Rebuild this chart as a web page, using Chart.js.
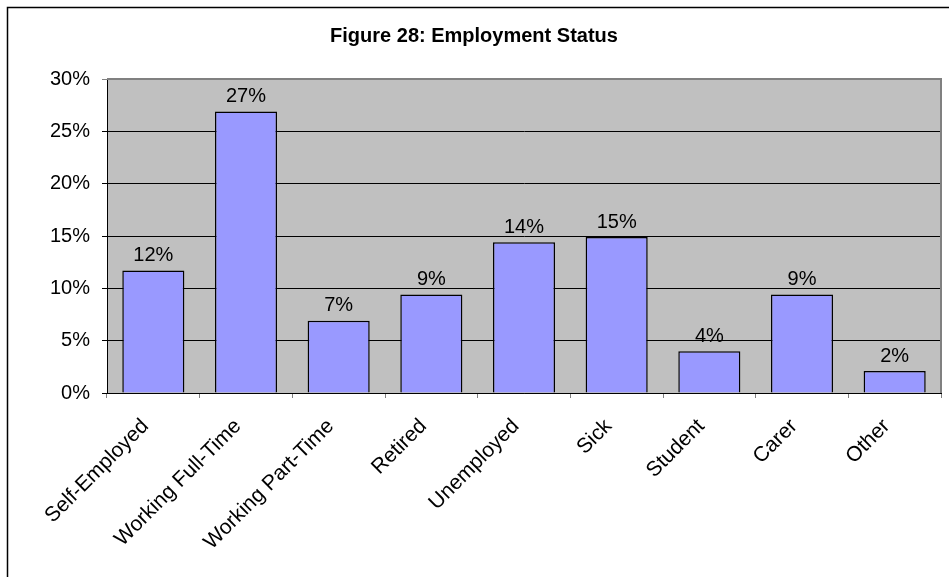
<!DOCTYPE html>
<html lang="en">
<head>
<meta charset="UTF-8">
<title>Figure 28: Employment Status</title>
<script src="https://cdn.jsdelivr.net/npm/chart.js"></script>
<style>
  body { margin: 0; background: #fff; }
  canvas { display: block; }
</style>
</head>
<body>
<canvas id="myChart" width="949" height="577"></canvas>
<script>
// values (percent)
const categories = ['Self-Employed', 'Working Full-Time', 'Working Part-Time', 'Retired',
                    'Unemployed', 'Sick', 'Student', 'Carer', 'Other'];
const shares = [11.7, 26.9, 6.9, 9.4, 14.4, 14.9, 4.0, 9.4, 2.1];
const yTicks = [0, 5, 10, 15, 20, 25, 30];

const FONT = "'Liberation Sans', Arial, sans-serif";

// outer frame + grey plot background
const backdrop = {
    id: 'backdrop',
    beforeDraw(chart) {
        const c = chart.ctx, a = chart.chartArea;
        c.save();
        c.fillStyle = '#fff';
        c.fillRect(0, 0, chart.width, chart.height);
        c.strokeStyle = '#000';
        c.lineWidth = 1.5;
        c.strokeRect(7.5, 7.5, chart.width + 20, chart.height + 20);
        c.fillStyle = '#c0c0c0';
        c.fillRect(a.left, a.top, a.right - a.left, a.bottom - a.top);
        c.restore();
    },
    beforeDatasetsDraw(chart) {
        const c = chart.ctx, a = chart.chartArea;
        c.save();
        c.strokeStyle = '#808080';
        c.lineWidth = 2;
        c.beginPath();
        c.moveTo(a.left, a.top);
        c.lineTo(a.right, a.top);
        c.lineTo(a.right, a.bottom);
        c.stroke();
        c.restore();
    }
};

// percentage labels above the bars
const barLabels = {
    id: 'barLabels',
    afterDatasetsDraw(chart) {
        const c = chart.ctx;
        const meta = chart.getDatasetMeta(0);
        c.save();
        c.font = '20px ' + FONT;
        c.fillStyle = '#000';
        c.textAlign = 'center';
        c.textBaseline = 'bottom';
        meta.data.forEach((bar, i) => {
            c.fillText(Math.round(shares[i]) + '%', bar.x, bar.y - 5);
        });
        c.restore();
    }
};

const ctx = document.getElementById('myChart').getContext('2d');
const myChart = new Chart(ctx, {
    type: 'bar',
    data: {
        labels: categories,
        datasets: [{
            data: shares,
            backgroundColor: '#9999ff',
            borderColor: '#000',
            borderWidth: 1.5,
            barPercentage: 1,
            categoryPercentage: 0.67
        }]
    },
    options: {
        responsive: false,
        animation: false,
        events: [],
        layout: { padding: { left: 7, right: 8, top: 0, bottom: 0 } },
        plugins: {
            legend: { display: false },
            tooltip: { enabled: false },
            title: {
                display: true,
                text: 'Figure 28: Employment Status',
                color: '#000',
                font: { family: FONT, size: 20, weight: 'bold', lineHeight: 1.2 },
                padding: { top: 24, bottom: 31 }
            }
        },
        scales: {
            x: {
                grid: {
                    display: true,
                    drawOnChartArea: false,
                    color: '#808080',
                    tickLength: 5
                },
                border: { color: '#000', width: 1 },
                ticks: {
                    color: '#000',
                    font: { family: FONT, size: 21 },
                    minRotation: 45,
                    maxRotation: 45,
                    autoSkip: false,
                    labelOffset: -8,
                    padding: 16
                },
                afterFit(scale) { scale.height = 184; }
            },
            y: {
                min: 0,
                max: 30,
                afterBuildTicks(scale) { scale.ticks = yTicks.map(v => ({ value: v })); },
                grid: {
                    color: c => (c.tick && c.tick.value === 30 ? '#808080' : '#000'),
                    lineWidth: 1,
                    tickLength: 5
                },
                border: { color: '#000', width: 1 },
                ticks: {
                    color: '#000',
                    font: { family: FONT, size: 20 },
                    padding: 12,
                    callback: v => v + '%'
                },
                afterFit(scale) { scale.width = 100; }
            }
        }
    },
    plugins: [backdrop, barLabels]
});
</script>
</body>
</html>
